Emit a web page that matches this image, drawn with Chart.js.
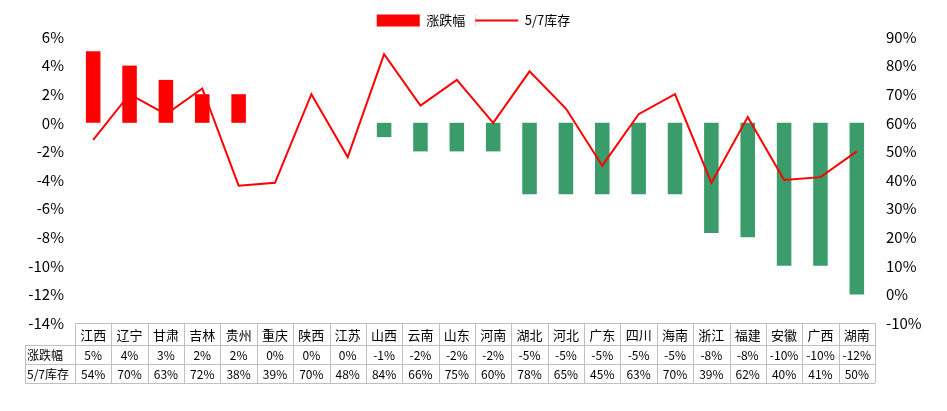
<!DOCTYPE html>
<html><head><meta charset="utf-8">
<script src="https://cdn.jsdelivr.net/npm/chart.js@4"></script>
<style>body{margin:0;background:#fff}#w{width:947px;height:411px}</style>
</head><body><div id="w"><canvas id="c"></canvas></div>
<script>
const categories=['江西','辽宁','甘肃','吉林','贵州','重庆','陕西','江苏','山西','云南','山东','河南','湖北','河北','广东','四川','海南','浙江','福建','安徽','广西','湖南'];
const changeVals=[5,4,3,2,2,0,0,0,-1,-2,-2,-2,-5,-5,-5,-5,-5,-7.7,-8,-10,-10,-12];
const changeLabels=['5%','4%','3%','2%','2%','0%','0%','0%','-1%','-2%','-2%','-2%','-5%','-5%','-5%','-5%','-5%','-8%','-8%','-10%','-10%','-12%'];
const stockVals=[54,70,63,72,38,39,70,48,84,66,75,60,78,65,45,63,70,39,62,40,41,50];
const FONT='"Microsoft YaHei","Noto Sans CJK SC",sans-serif';
const tablePlugin={id:'tbl',afterDraw(ch){
 const c=ch.ctx,a=ch.chartArea,x=ch.scales.x;
 const rows=[a.bottom,a.bottom+22,a.bottom+41,a.bottom+60];
 const left=25,step=(a.right-a.left)/categories.length;
 c.save();c.strokeStyle='#bfbfbf';c.lineWidth=1;
 c.beginPath();
 for(let i=1;i<4;i++){c.moveTo(left,rows[i]+.5);c.lineTo(a.right,rows[i]+.5);}
 c.moveTo(left+.5,rows[1]);c.lineTo(left+.5,rows[3]);
 for(let i=0;i<=categories.length;i++){const xx=Math.round(a.left+i*step)+.5;c.moveTo(xx,rows[0]);c.lineTo(xx,rows[3]);}
 c.moveTo(a.left,rows[0]+.5);c.lineTo(a.right,rows[0]+.5);
 c.stroke();
 c.fillStyle='#000';c.textAlign='center';c.textBaseline='middle';
 c.font='13px '+FONT;
 categories.forEach((t,i)=>c.fillText(t,x.getPixelForValue(i),(rows[0]+rows[1])/2+1));
 c.font='12px '+FONT;
 changeLabels.forEach((t,i)=>c.fillText(t,x.getPixelForValue(i),(rows[1]+rows[2])/2+1));
 stockVals.forEach((v,i)=>c.fillText(v+'%',x.getPixelForValue(i),(rows[2]+rows[3])/2+1));
 c.textAlign='left';
 c.fillText('涨跌幅',left+2,(rows[1]+rows[2])/2+1);
 c.fillText('5/7库存',left+2,(rows[2]+rows[3])/2+1);
 c.restore();}};
new Chart(document.getElementById('c'),{
 data:{labels:categories,datasets:[
  {type:'bar',label:'涨跌幅',data:changeVals,yAxisID:'y',order:2,
   backgroundColor:changeVals.map(v=>v>=0?'#ff0000':'#3a9c6b'),barPercentage:0.4,categoryPercentage:1},
  {type:'line',label:'5/7库存',data:stockVals,yAxisID:'y1',order:1,borderColor:'#ff0000',borderWidth:2,pointRadius:0,tension:0}
 ]},
 options:{responsive:true,maintainAspectRatio:false,animation:false,
  layout:{padding:{left:0,right:0,top:4,bottom:80}},
  plugins:{tooltip:{enabled:false},
   legend:{position:'top',labels:{font:{size:13,family:FONT},color:'#000',boxWidth:43,boxHeight:12,padding:10,
    generateLabels:ch=>[
     {text:'涨跌幅',fillStyle:'#ff0000',strokeStyle:'#ff0000',lineWidth:0,datasetIndex:0},
     {text:'5/7库存',fillStyle:'#ff0000',strokeStyle:'#ff0000',lineWidth:0,datasetIndex:1}
    ]}}},
  scales:{
   x:{grid:{display:false},border:{display:false},ticks:{display:false}},
   y:{min:-14,max:6,grid:{display:false},border:{display:false},afterFit:s=>{s.width=75;},
      ticks:{stepSize:2,callback:v=>v+'%',color:'#000',font:{size:15,family:FONT}}},
   y1:{position:'right',min:-10,max:90,grid:{display:false},border:{display:false},afterFit:s=>{s.width=72;},
      ticks:{stepSize:10,callback:v=>v+'%',color:'#000',font:{size:15,family:FONT}}}
  }}
 ,plugins:[tablePlugin,{id:'lg',afterDraw(ch){const l=ch.legend;const it=l.legendHitBoxes[1];const c=ch.ctx;c.save();c.fillStyle='#fff';c.fillRect(it.left,it.top,44,it.height);c.strokeStyle='#ff0000';c.lineWidth=2;c.beginPath();c.moveTo(it.left,it.top+it.height/2);c.lineTo(it.left+43,it.top+it.height/2);c.stroke();c.restore();}}]
});
</script></body></html>
